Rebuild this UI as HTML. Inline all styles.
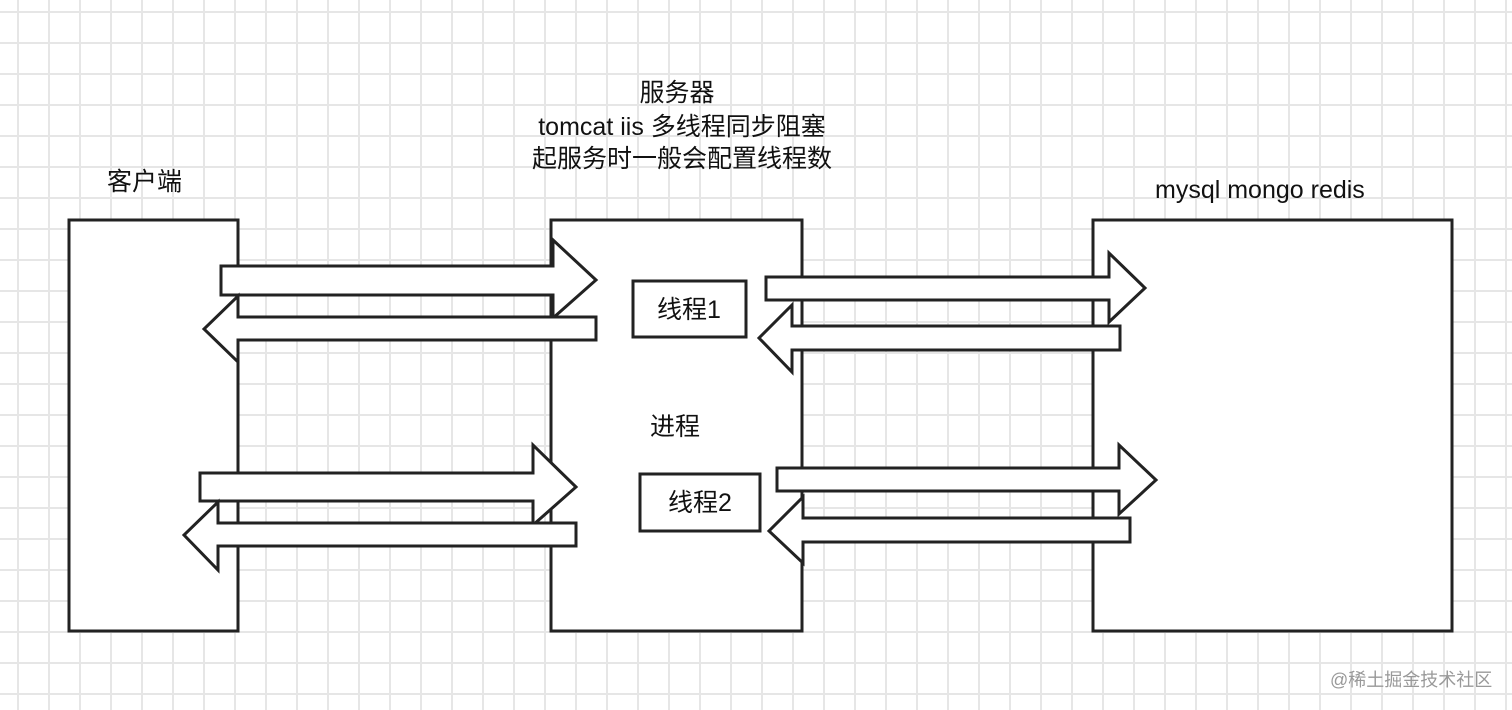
<!DOCTYPE html>
<html><head><meta charset="utf-8"><style>
html,body{margin:0;padding:0;background:#fff;}
body{width:1512px;height:710px;overflow:hidden;position:relative;
background-image:linear-gradient(to right,#e6e6e6 0,#e6e6e6 2px,transparent 2px),linear-gradient(to bottom,#e6e6e6 0,#e6e6e6 2px,transparent 2px);
background-size:31px 31px;background-position:17px 11px;}
svg{position:absolute;left:0;top:0;}
text{font-family:"Liberation Sans","Noto Sans CJK SC",sans-serif;fill:#111;}
</style></head><body>
<svg width="1512" height="710" viewBox="0 0 1512 710">
<g fill="#fff" stroke="#222" stroke-width="3" stroke-linejoin="miter">
<rect x="69" y="220" width="169" height="411"/>
<rect x="551" y="220" width="251" height="411"/>
<rect x="1093" y="220" width="359" height="411"/>
<polygon points="221,266 553,266 553,240 596,280 553,318 553,295 221,295"/>
<polygon points="596,317 238,317 238,296 204,329 238,362 238,340 596,340"/>
<polygon points="200,473 533,473 533,445 576,487 533,525 533,501 200,501"/>
<polygon points="576,523 218,523 218,502 184,535 218,570 218,546 576,546"/>
<polygon points="766,277 1109,277 1109,253 1145,288 1109,322 1109,300 766,300"/>
<polygon points="1120,326 792,326 792,305 759,338 792,372 792,350 1120,350"/>
<polygon points="777,468 1119,468 1119,445 1156,480 1119,514 1119,491 777,491"/>
<polygon points="1130,518 803,518 803,497 769,531 803,563 803,542 1130,542"/>
<rect x="633" y="281" width="113" height="56"/>
<rect x="640" y="474" width="120" height="57"/>
</g>
<g font-size="25">
<text x="677" y="101" text-anchor="middle">服务器</text>
<text x="682" y="135" text-anchor="middle">tomcat iis 多线程同步阻塞</text>
<text x="682" y="167" text-anchor="middle">起服务时一般会配置线程数</text>
<text x="107" y="190">客户端</text>
<text x="1155" y="198">mysql mongo redis</text>
<text x="650" y="435">进程</text>
<text x="689" y="318" text-anchor="middle">线程1</text>
<text x="700" y="511" text-anchor="middle">线程2</text>
</g>
<text x="1330" y="686" font-size="18" style="fill:#999">@稀土掘金技术社区</text>
</svg>
</body></html>
